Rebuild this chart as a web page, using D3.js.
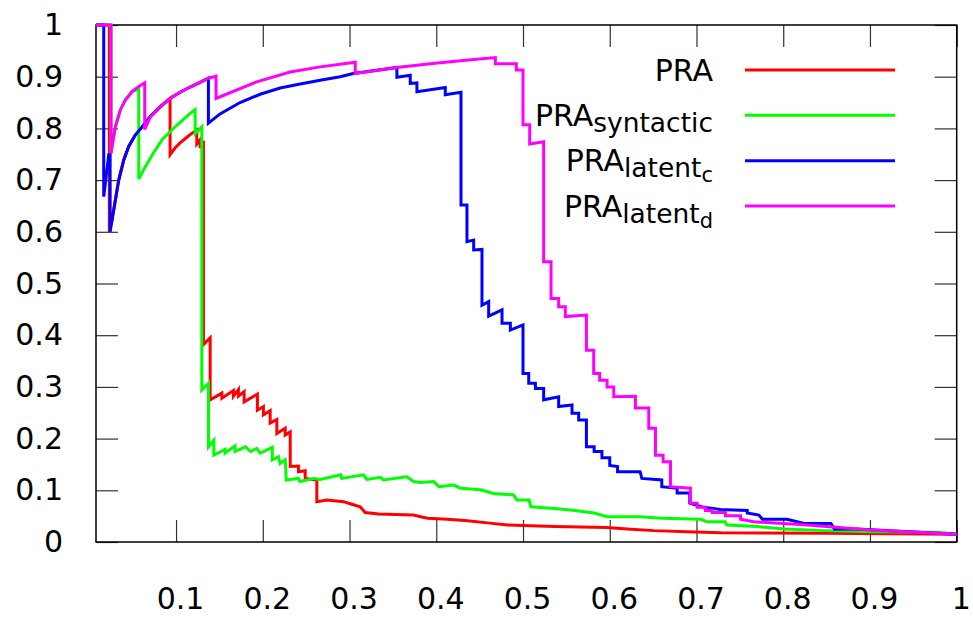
<!DOCTYPE html>
<html>
<head>
<meta charset="utf-8">
<script src="https://cdn.jsdelivr.net/npm/d3@7"></script>
<style>
  body { margin: 0; background: #fff; }
  text { font-family: "DejaVu Sans", sans-serif; }
</style>
</head>
<body>
<div class="chart"></div>
<script>
// precision / recall values, [recall, precision]
var pra = [
  [0.0077, 1], [0.0231, 1], [0.0231, 0.600],
  [0.0262, 0.623], [0.0300, 0.661], [0.0339, 0.700], [0.0397, 0.739], [0.0454, 0.765],
  [0.0530, 0.787], [0.0608, 0.803], [0.0703, 0.823], [0.0819, 0.842], [0.0931, 0.858],
  [0.0931, 0.749], [0.0988, 0.762], [0.1046, 0.772], [0.1104, 0.780], [0.1162, 0.788],
  [0.1239, 0.797], [0.1239, 0.770], [0.1277, 0.778], [0.1277, 0.762], [0.1316, 0.776],
  [0.1316, 0.382], [0.1393, 0.395], [0.1393, 0.275],
  [0.1528, 0.288], [0.1528, 0.278], [0.1661, 0.293], [0.1661, 0.282], [0.1719, 0.295],
  [0.1719, 0.282], [0.1785, 0.291], [0.1785, 0.271], [0.1938, 0.286], [0.1938, 0.255],
  [0.2007, 0.262], [0.2007, 0.246], [0.2085, 0.254], [0.2085, 0.230], [0.2162, 0.237],
  [0.2162, 0.210], [0.2258, 0.220], [0.2258, 0.207], [0.2316, 0.213], [0.2316, 0.146],
  [0.2411, 0.147], [0.2411, 0.136], [0.2489, 0.138], [0.2489, 0.123], [0.2623, 0.120],
  [0.2623, 0.078], [0.2739, 0.081], [0.2931, 0.078], [0.3008, 0.074], [0.3123, 0.068],
  [0.3181, 0.057], [0.3335, 0.054], [0.3735, 0.052], [0.3897, 0.046], [0.413, 0.044],
  [0.436, 0.041], [0.459, 0.037], [0.482, 0.033], [0.536, 0.030], [0.597, 0.028],
  [0.620, 0.025], [0.651, 0.022], [0.689, 0.020], [0.728, 0.018], [0.85, 0.017], [1.0, 0.015]
];
var praSyntactic = [
  [0.0077, 1], [0.0250, 1], [0.0250, 0.752],
  [0.0262, 0.765], [0.0300, 0.803], [0.0358, 0.836], [0.0415, 0.855], [0.0492, 0.871],
  [0.0570, 0.876], [0.0570, 0.702], [0.0646, 0.726], [0.0730, 0.750], [0.0839, 0.778],
  [0.1008, 0.806], [0.1162, 0.829], [0.1220, 0.836], [0.1220, 0.790], [0.1297, 0.803],
  [0.1297, 0.294], [0.1374, 0.307], [0.1374, 0.184], [0.1436, 0.197], [0.1436, 0.168],
  [0.1566, 0.179], [0.1566, 0.172], [0.168, 0.186], [0.168, 0.175], [0.180, 0.184],
  [0.186, 0.175], [0.193, 0.181], [0.197, 0.172], [0.211, 0.183], [0.211, 0.159],
  [0.218, 0.165], [0.220, 0.152], [0.226, 0.159], [0.227, 0.120], [0.241, 0.123],
  [0.243, 0.117], [0.259, 0.123], [0.266, 0.121], [0.290, 0.130], [0.291, 0.123],
  [0.316, 0.130], [0.320, 0.121], [0.336, 0.125], [0.339, 0.120], [0.366, 0.126],
  [0.374, 0.117], [0.382, 0.115], [0.397, 0.117], [0.403, 0.107], [0.420, 0.110],
  [0.428, 0.104], [0.451, 0.101], [0.466, 0.094], [0.489, 0.091], [0.493, 0.081],
  [0.507, 0.081], [0.509, 0.068], [0.536, 0.065], [0.555, 0.062], [0.582, 0.056],
  [0.597, 0.049], [0.635, 0.049], [0.660, 0.046], [0.705, 0.044], [0.712, 0.039],
  [0.733, 0.039], [0.735, 0.033], [0.770, 0.030], [0.801, 0.025], [0.847, 0.022],
  [0.901, 0.020], [0.978, 0.019], [1.0, 0.015]
];
var praLatentC = [
  [0.0077, 1], [0.0166, 1], [0.0166, 0.668], [0.0224, 0.749], [0.0240, 0.749], [0.0240, 0.600],
  [0.0262, 0.623], [0.0300, 0.661], [0.0339, 0.700], [0.0397, 0.739], [0.0454, 0.765],
  [0.0530, 0.787], [0.0608, 0.803], [0.0703, 0.823], [0.0819, 0.842], [0.0931, 0.858],
  [0.1046, 0.870], [0.1162, 0.880], [0.1277, 0.889], [0.1373, 0.897], [0.1373, 0.810],
  [0.1507, 0.828], [0.1738, 0.850], [0.1969, 0.866], [0.2200, 0.878], [0.2431, 0.886],
  [0.2661, 0.893], [0.2892, 0.900], [0.3042, 0.906], [0.3546, 0.918], [0.3546, 0.899],
  [0.3700, 0.903], [0.3700, 0.887], [0.3777, 0.888], [0.3777, 0.871], [0.4104, 0.879],
  [0.4104, 0.865], [0.4285, 0.870], [0.4285, 0.652], [0.4354, 0.652], [0.4354, 0.581],
  [0.4431, 0.584], [0.4431, 0.565], [0.4527, 0.566], [0.4527, 0.458], [0.4604, 0.465],
  [0.4604, 0.437], [0.4758, 0.449], [0.4758, 0.423], [0.4854, 0.423], [0.4854, 0.410],
  [0.5000, 0.420], [0.5000, 0.326], [0.5066, 0.326], [0.5066, 0.307], [0.5143, 0.307],
  [0.5143, 0.297], [0.5238, 0.297], [0.5238, 0.275], [0.5411, 0.281], [0.5411, 0.262],
  [0.5565, 0.265], [0.5565, 0.249], [0.5642, 0.249], [0.5642, 0.236], [0.5731, 0.236],
  [0.5731, 0.184], [0.582, 0.184], [0.582, 0.175], [0.591, 0.175], [0.591, 0.163],
  [0.600, 0.163], [0.600, 0.148], [0.609, 0.146], [0.609, 0.136], [0.635, 0.136],
  [0.637, 0.123], [0.660, 0.120], [0.660, 0.107], [0.6777, 0.104], [0.6777, 0.095],
  [0.6923, 0.095], [0.6923, 0.075], [0.7084, 0.067], [0.7277, 0.063], [0.7585, 0.061],
  [0.7585, 0.056], [0.772, 0.052], [0.776, 0.044], [0.8045, 0.044], [0.824, 0.036],
  [0.855, 0.036], [0.859, 0.025], [0.885, 0.025], [1.0, 0.015]
];
var praLatentD = [
  [0.0077, 1], [0.0250, 1], [0.0250, 0.752],
  [0.0262, 0.765], [0.0300, 0.803], [0.0358, 0.836], [0.0415, 0.855], [0.0492, 0.871],
  [0.0570, 0.881], [0.0639, 0.888], [0.0639, 0.798], [0.0703, 0.822], [0.0819, 0.842],
  [0.0931, 0.858], [0.1046, 0.870], [0.1162, 0.880], [0.1277, 0.889], [0.1373, 0.897],
  [0.1461, 0.901], [0.1461, 0.858], [0.1930, 0.890], [0.2315, 0.909], [0.2661, 0.919],
  [0.3066, 0.928], [0.3066, 0.906], [0.3546, 0.918], [0.3931, 0.925], [0.4277, 0.931],
  [0.4681, 0.937], [0.4681, 0.925], [0.4923, 0.925], [0.4923, 0.913], [0.5000, 0.913],
  [0.5000, 0.807], [0.5077, 0.807], [0.5077, 0.770], [0.5238, 0.774], [0.5238, 0.542],
  [0.5323, 0.542], [0.5323, 0.471], [0.5411, 0.471], [0.5411, 0.455], [0.5488, 0.455],
  [0.5488, 0.436], [0.5731, 0.439], [0.5731, 0.371], [0.5815, 0.371], [0.5815, 0.326],
  [0.5884, 0.326], [0.5884, 0.313], [0.5969, 0.313], [0.5969, 0.300], [0.6046, 0.300],
  [0.6046, 0.281], [0.6296, 0.282], [0.6296, 0.259], [0.6450, 0.259], [0.6450, 0.220],
  [0.6527, 0.220], [0.6527, 0.168], [0.6615, 0.168], [0.6615, 0.155], [0.670, 0.155],
  [0.670, 0.107], [0.693, 0.104], [0.693, 0.075], [0.7008, 0.075], [0.7008, 0.067],
  [0.7104, 0.067], [0.7104, 0.061], [0.7181, 0.061], [0.7181, 0.057], [0.7334, 0.057],
  [0.7334, 0.051], [0.7508, 0.051], [0.7508, 0.044], [0.766, 0.039], [0.8277, 0.033],
  [0.9008, 0.023], [1.0, 0.015]
];

var seriesNames = ['PRA', 'PRA_syntactic', 'PRA_latent_c', 'PRA_latent_d'];
var seriesColors = ['#ff0000', '#00ff00', '#0000ff', '#ff00ff'];
var seriesData = [pra, praSyntactic, praLatentC, praLatentD];
var xTicks = [0.1, 0.2, 0.3, 0.4, 0.5, 0.6, 0.7, 0.8, 0.9, 1];
var yTicks = [0, 0.1, 0.2, 0.3, 0.4, 0.5, 0.6, 0.7, 0.8, 0.9, 1];
var xTickLabels = ['0.1', '0.2', '0.3', '0.4', '0.5', '0.6', '0.7', '0.8', '0.9', '1'];
var yTickLabels = ['0', '0.1', '0.2', '0.3', '0.4', '0.5', '0.6', '0.7', '0.8', '0.9', '1'];

var width = 973;
var height = 617;
var plot = { left: 96, right: 956.7, top: 25, bottom: 542 };

var svg = d3.select('.chart').append('svg').attr('width', width).attr('height', height);

var x = d3.scaleLinear().domain([0.0077, 1]).range([plot.left, plot.right]);
var y = d3.scaleLinear().domain([0, 1]).range([plot.bottom, plot.top]);

function styleAxis(g) {
  g.select('.domain').remove();
  g.selectAll('.tick line').attr('stroke', '#333').attr('stroke-width', 1.2);
  g.selectAll('.tick text').attr('font-size', 30).attr('fill', '#000')
    .attr('font-family', '"DejaVu Sans", sans-serif');
}

svg.append('g').attr('transform', 'translate(' + plot.left + ',0)')
  .call(d3.axisLeft(y).tickValues(yTicks).tickSize(-22).tickPadding(33)
    .tickFormat(function(d, i) { return yTickLabels[i]; }))
  .call(styleAxis);
svg.append('g').attr('transform', 'translate(' + plot.right + ',0)')
  .call(d3.axisRight(y).tickValues(yTicks).tickSize(-22).tickFormat(''))
  .call(styleAxis);
svg.append('g').attr('transform', 'translate(0,' + plot.bottom + ')')
  .call(d3.axisBottom(x).tickValues(xTicks).tickSize(-22).tickPadding(46)
    .tickFormat(function(d, i) { return xTickLabels[i]; }))
  .call(styleAxis)
  .selectAll('.tick text').attr('dx', 4);
svg.append('g').attr('transform', 'translate(0,' + plot.top + ')')
  .call(d3.axisTop(x).tickValues(xTicks).tickSize(-22).tickFormat(''))
  .call(styleAxis);

svg.append('rect')
  .attr('x', plot.left).attr('y', plot.top)
  .attr('width', plot.right - plot.left).attr('height', plot.bottom - plot.top)
  .attr('fill', 'none').attr('stroke', '#000').attr('stroke-width', 1.5);

var line = d3.line()
  .x(function(d) { return x(d[0]); })
  .y(function(d) { return y(d[1]); });

seriesData.forEach(function(data, i) {
  svg.append('path')
    .datum(data)
    .attr('d', line)
    .attr('fill', 'none')
    .attr('stroke', seriesColors[i])
    .attr('stroke-width', 3)
    .attr('stroke-linejoin', 'miter');
});

// legend
var legendY = [70, 115.3, 160.7, 206];
seriesNames.forEach(function(name, i) {
  var parts = name.split('_');
  var t = svg.append('text')
    .attr('x', 713).attr('y', legendY[i]).attr('dy', 10.5)
    .attr('text-anchor', 'end')
    .attr('font-size', 30);
  t.append('tspan').text(parts[0]);
  if (parts[1]) {
    t.append('tspan').attr('font-size', 26.5).attr('dy', 6).text(parts[1]);
  }
  if (parts[2]) {
    t.append('tspan').attr('font-size', 21).attr('dy', 5).text(parts[2]);
  }
  svg.append('line')
    .attr('x1', 745).attr('x2', 895)
    .attr('y1', legendY[i]).attr('y2', legendY[i])
    .attr('stroke', seriesColors[i])
    .attr('stroke-width', 3);
});
</script>
</body>
</html>
